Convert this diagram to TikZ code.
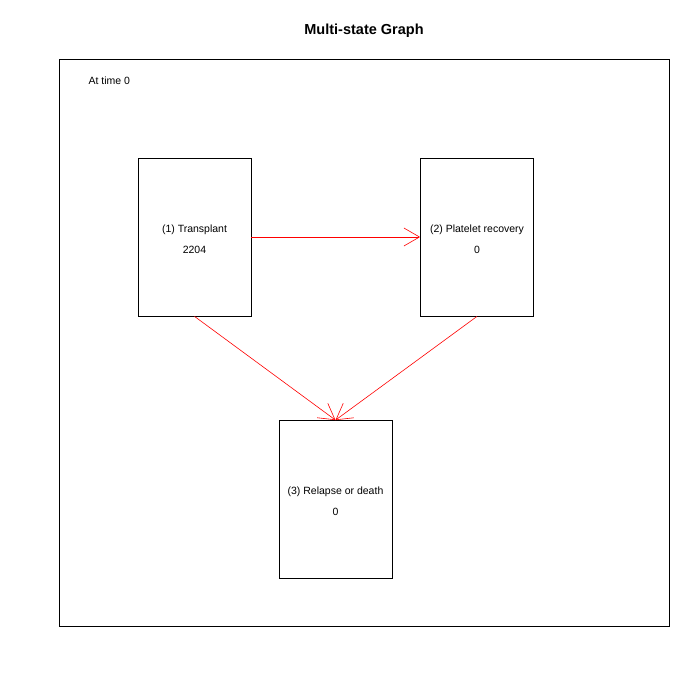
\documentclass[tikz,border=0pt]{standalone}
\usepackage{fontspec}
\setmainfont{Liberation Sans}
\usetikzlibrary{arrows.meta}
\newcommand\statetext[2]{\rule{0pt}{12pt}#1\\#2}

\begin{document}
\begin{tikzpicture}[x=1pt,y=-1pt,
    state/.style={draw,line width=0.8pt,minimum width=113pt,minimum height=158pt,inner sep=0pt,align=center,font=\fontsize{10.5}{21}\selectfont},
    trans/.style={red,line width=0.6pt,-{Straight Barb[length=15.6pt,width=18pt,line width=0.6pt]}}]
    \useasboundingbox (0,0) rectangle (700,700);
    \node[font=\fontsize{14.5}{17}\selectfont\bfseries] (title) at (364,31) {Multi-state Graph};
    \draw[line width=0.8pt] (59,59) rectangle (669,626); % plot frame
    \node[anchor=west,font=\fontsize{10.5}{12}\selectfont] (time) at (85,81) {At time 0};

    \node[state] (s1) at (194.5,237) {\statetext{(1) Transplant}{2204}};
    \node[state] (s2) at (477,237) {\statetext{(2) Platelet recovery}{0}};
    \node[state] (s3) at (335.5,499.5) {\statetext{(3) Relapse or death}{0}};

    \draw[trans] (s1.east) -- (s2.west);
    \draw[trans] (s1.south) -- (s3.north);
    \draw[trans] (s2.south) -- (s3.north);
\end{tikzpicture}
\end{document}
